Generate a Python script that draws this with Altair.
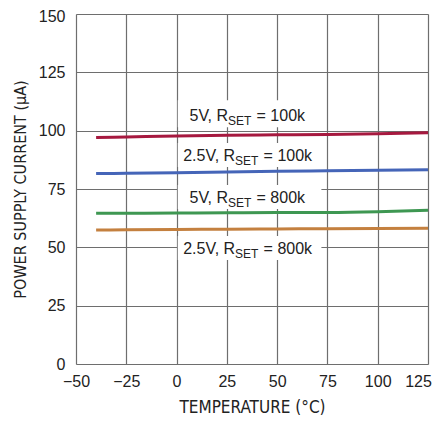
import altair as alt
import pandas as pd

# ---- data ----
temps = [-40, -25, 0, 25, 50, 75, 100, 125]
i_5v_100k = [97.1, 97.3, 97.7, 98.0, 98.2, 98.4, 98.7, 99.1]
i_25v_100k = [81.6, 81.7, 82.0, 82.3, 82.6, 82.8, 83.0, 83.3]
i_5v_800k = [64.6, 64.6, 64.7, 64.8, 64.9, 64.9, 65.2, 65.9]
i_25v_800k = [57.4, 57.5, 57.6, 57.8, 57.9, 58.0, 58.1, 58.2]
series_names = ["5V, 100k", "2.5V, 100k", "5V, 800k", "2.5V, 800k"]
series_colors = ["#A6193F", "#4565B8", "#3E9752", "#C4803F"]

x_ticks = [-50, -25, 0, 25, 50, 75, 100, 125]
y_ticks = [0, 25, 50, 75, 100, 125, 150]

label_main = ["5V, R", "2.5V, R", "5V, R", "2.5V, R"]
label_sub = ["SET", "SET", "SET", "SET"]
label_tail = ["= 100k", "= 100k", "= 800k", "= 800k"]
label_x = [25.6, 29.1, 25.6, 29.1]
label_y = [104.1, 87.0, 69.1, 47.1]
box_x1 = [0.6, 0.6, 0.6, 0.6]
box_x2 = [72.0, 72.0, 72.0, 72.0]
box_y1 = [101.5, 84.4, 66.4, 44.6]
box_y2 = [113.0, 94.7, 76.7, 54.9]

FONT = "Liberation Sans"
TITLE_FONT = "DejaVu Sans Condensed"
TXT = "#222222"

rows = []
for name, vals in zip(series_names, [i_5v_100k, i_25v_100k, i_5v_800k, i_25v_800k]):
    for t, v in zip(temps, vals):
        rows.append({"series": name, "temp": t, "current": v})
df = pd.DataFrame(rows)

labels = pd.DataFrame({
    "main": label_main, "sub": label_sub, "tail": label_tail,
    "lx": label_x, "ly": label_y,
    "bx1": box_x1, "bx2": box_x2, "by1": box_y1, "by2": box_y2,
})

xscale = alt.Scale(domain=[-50, 125], nice=False, zero=False)
yscale = alt.Scale(domain=[0, 150], nice=False)

x_axis = alt.Axis(
    values=x_ticks, grid=True, tickSize=0, domain=False, labelFlush=False,
    labelExpr="replace(format(datum.value, 'd'), '-', '\u2212')",
    labelFont=FONT, labelFontSize=16, labelColor=TXT, labelPadding=9,
    labelOffset={"condition": {"test": "datum.value == 125", "value": -10}, "value": 0},
    title="TEMPERATURE (°C)", titleFont=TITLE_FONT, titleFontSize=17,
    titleFontWeight="normal", titleColor=TXT, titleBaseline="alphabetic", titleY=48,
    gridColor="#6e6e6e", gridWidth=1.2,
)
y_axis = alt.Axis(
    values=y_ticks, grid=True, tickSize=0, domain=False, labelFlush=False,
    labelFont=FONT, labelFontSize=16, labelColor=TXT, labelPadding=11,
    labelOffset={"condition": {"test": "datum.value == 150", "value": 2}, "value": 0},
    title="POWER SUPPLY CURRENT (µA)", titleFont=TITLE_FONT, titleFontSize=16,
    titleFontWeight="normal", titleColor=TXT, titleBaseline="alphabetic", titleX=-50.5,
    gridColor="#6e6e6e", gridWidth=1.2,
)

boxes = alt.Chart(labels).mark_rect(color="white").encode(
    x=alt.X("bx1:Q", scale=xscale, axis=x_axis),
    x2="bx2:Q",
    y=alt.Y("by1:Q", scale=yscale, axis=y_axis),
    y2="by2:Q",
)

lines = alt.Chart(df).mark_line(strokeWidth=3, interpolate="monotone").encode(
    x=alt.X("temp:Q", scale=xscale),
    y=alt.Y("current:Q", scale=yscale),
    color=alt.Color("series:N", scale=alt.Scale(domain=series_names, range=series_colors), legend=None),
    detail="series:N",
)

base_t = alt.Chart(labels).encode(
    x=alt.X("lx:Q", scale=xscale), y=alt.Y("ly:Q", scale=yscale)
)
t_main = base_t.mark_text(align="right", baseline="alphabetic", font=FONT, fontSize=16, color=TXT).encode(text="main:N")
t_sub = base_t.mark_text(align="left", baseline="alphabetic", font=FONT, fontSize=12, color=TXT, dy=4).encode(text="sub:N")
t_tail = base_t.mark_text(align="left", baseline="alphabetic", font=FONT, fontSize=16, color=TXT, dx=28.5).encode(text="tail:N")

chart = alt.layer(boxes, lines, t_main, t_sub, t_tail).properties(
    width=352, height=350,
    padding={"left": 68, "top": 6, "right": 5, "bottom": 51},
    autosize="none",
).configure_view(stroke="#444444", strokeWidth=1.8).configure(background="white")

chart.save("out.html", embed_options={"renderer": "svg", "actions": False})
